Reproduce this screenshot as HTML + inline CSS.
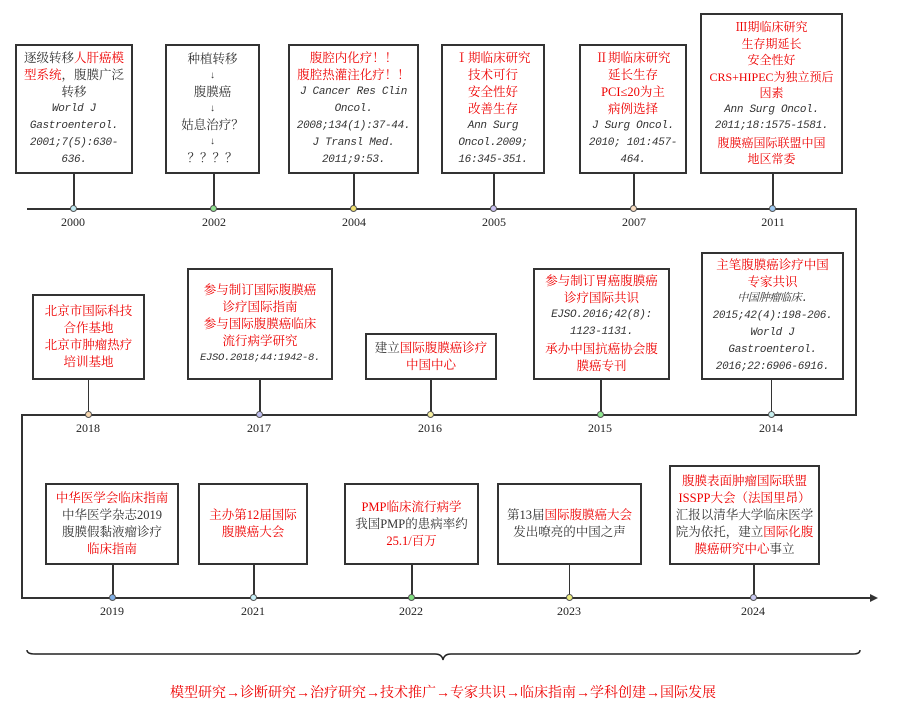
<!DOCTYPE html>
<html><head><meta charset="utf-8"><style>
body{margin:0;width:898px;height:711px;background:#fff;position:relative;overflow:hidden;font-family:"Liberation Serif","Noto Serif CJK SC",serif;}
.b{position:absolute;border:2px solid #333;box-sizing:border-box;background:#fff;text-align:center;font-size:12.5px;line-height:17px;color:#333;display:flex;flex-direction:column;justify-content:center;}
.r{color:#e00;}
.i{font-style:italic;font-family:"Liberation Mono","Noto Serif CJK SC",monospace;font-size:11px;letter-spacing:-0.3px;}
.l{position:absolute;background:#333;}
.d{position:absolute;width:7px;height:7px;border-radius:50%;border:1px solid #555;box-sizing:border-box;}
.y{position:absolute;font-size:12px;width:50px;text-align:center;color:#222;}
</style></head><body>
<div class="l" style="left:27px;top:208px;width:830px;height:1.5px"></div>
<div class="l" style="left:855px;top:208px;width:1.5px;height:207px"></div>
<div class="l" style="left:21px;top:414px;width:836px;height:1.5px"></div>
<div class="l" style="left:21px;top:414px;width:1.5px;height:185px"></div>
<div class="l" style="left:21px;top:597px;width:852px;height:1.5px"></div>
<svg style="position:absolute;left:870px;top:593px" width="10" height="10"><polygon points="0,1 8,5 0,9" fill="#333"/></svg>
<div class="l" style="left:73px;top:174px;width:1.5px;height:34px"></div>
<div class="l" style="left:213px;top:174px;width:1.5px;height:34px"></div>
<div class="l" style="left:353px;top:174px;width:1.5px;height:34px"></div>
<div class="l" style="left:493px;top:174px;width:1.5px;height:34px"></div>
<div class="l" style="left:633px;top:174px;width:1.5px;height:34px"></div>
<div class="l" style="left:772px;top:174px;width:1.5px;height:34px"></div>
<div class="l" style="left:88px;top:380px;width:1px;height:34px"></div>
<div class="l" style="left:259px;top:380px;width:1.5px;height:34px"></div>
<div class="l" style="left:430px;top:380px;width:1.5px;height:34px"></div>
<div class="l" style="left:600px;top:380px;width:1.5px;height:34px"></div>
<div class="l" style="left:771px;top:380px;width:1px;height:34px"></div>
<div class="l" style="left:112px;top:565px;width:1.5px;height:33px"></div>
<div class="l" style="left:253px;top:565px;width:1.5px;height:33px"></div>
<div class="l" style="left:411px;top:565px;width:1.5px;height:33px"></div>
<div class="l" style="left:569px;top:565px;width:1px;height:33px"></div>
<div class="l" style="left:753px;top:565px;width:1.5px;height:33px"></div>
<div class="d" style="left:70px;top:205px;background:#bfe8f0"></div>
<div class="d" style="left:210px;top:205px;background:#8fe08f"></div>
<div class="d" style="left:350px;top:205px;background:#f0e070"></div>
<div class="d" style="left:490px;top:205px;background:#c8c0f0"></div>
<div class="d" style="left:630px;top:205px;background:#f8dcc0"></div>
<div class="d" style="left:769px;top:205px;background:#9cc8f0"></div>
<div class="d" style="left:85px;top:411px;background:#f8d8b0"></div>
<div class="d" style="left:256px;top:411px;background:#c0c0f0"></div>
<div class="d" style="left:427px;top:411px;background:#f8f0a0"></div>
<div class="d" style="left:597px;top:411px;background:#90e890"></div>
<div class="d" style="left:768px;top:411px;background:#c8f0f0"></div>
<div class="d" style="left:109px;top:594px;background:#80b0e8"></div>
<div class="d" style="left:250px;top:594px;background:#c8f0f8"></div>
<div class="d" style="left:408px;top:594px;background:#80e080"></div>
<div class="d" style="left:566px;top:594px;background:#f0f080"></div>
<div class="d" style="left:750px;top:594px;background:#c8c8f0"></div>
<div class="y" style="left:48px;top:215px">2000</div>
<div class="y" style="left:189px;top:215px">2002</div>
<div class="y" style="left:329px;top:215px">2004</div>
<div class="y" style="left:469px;top:215px">2005</div>
<div class="y" style="left:609px;top:215px">2007</div>
<div class="y" style="left:748px;top:215px">2011</div>
<div class="y" style="left:63px;top:421px">2018</div>
<div class="y" style="left:234px;top:421px">2017</div>
<div class="y" style="left:405px;top:421px">2016</div>
<div class="y" style="left:575px;top:421px">2015</div>
<div class="y" style="left:746px;top:421px">2014</div>
<div class="y" style="left:87px;top:604px">2019</div>
<div class="y" style="left:228px;top:604px">2021</div>
<div class="y" style="left:386px;top:604px">2022</div>
<div class="y" style="left:544px;top:604px">2023</div>
<div class="y" style="left:728px;top:604px">2024</div>
<div class="b" style="left:15px;top:44px;width:118px;height:130px"><div>逐级转移<span class="r">人肝癌模<br>型系统</span>，腹膜广泛<br>转移</div><div class="i">World J<br>Gastroenterol.<br>2001;7(5):630-<br>636.</div></div>
<div class="b" style="left:165px;top:44px;width:95px;height:130px"><div>种植转移</div><div style="font-size:10px;line-height:16px">↓</div><div>腹膜癌</div><div style="font-size:10px;line-height:16px">↓</div><div>姑息治疗？</div><div style="font-size:10px;line-height:16px">↓</div><div>？？？？</div></div>
<div class="b" style="left:288px;top:44px;width:131px;height:130px"><div class="r">腹腔内化疗！！<br>腹腔热灌注化疗！！</div><div class="i">J Cancer Res Clin<br>Oncol.<br>2008;134(1):37-44.<br>J Transl Med.<br>2011;9:53.</div></div>
<div class="b" style="left:441px;top:44px;width:104px;height:130px"><div class="r">Ⅰ期临床研究<br>技术可行<br>安全性好<br>改善生存</div><div class="i">Ann Surg<br>Oncol.2009;<br>16:345-351.</div></div>
<div class="b" style="left:579px;top:44px;width:108px;height:130px"><div class="r">Ⅱ期临床研究<br>延长生存<br>PCI≤20为主<br>病例选择</div><div class="i">J Surg Oncol.<br>2010; 101:457-<br>464.</div></div>
<div class="b" style="left:700px;top:13px;width:143px;height:161px;line-height:16.5px;font-size:12px"><div class="r">Ⅲ期临床研究<br>生存期延长<br>安全性好<br>CRS+HIPEC为独立预后<br>因素</div><div class="i">Ann Surg Oncol.<br>2011;18:1575-1581.</div><div class="r">腹膜癌国际联盟中国<br>地区常委</div></div>
<div class="b r" style="left:32px;top:294px;width:113px;height:86px"><div>北京市国际科技<br>合作基地<br>北京市肿瘤热疗<br>培训基地</div></div>
<div class="b" style="left:187px;top:268px;width:146px;height:112px"><div class="r">参与制订国际腹膜癌<br>诊疗国际指南<br>参与国际腹膜癌临床<br>流行病学研究</div><div class="i" style="font-size:10.5px">EJSO.2018;44:1942-8.</div></div>
<div class="b" style="left:365px;top:333px;width:132px;height:47px"><div>建立<span class="r">国际腹膜癌诊疗<br>中国中心</span></div></div>
<div class="b" style="left:533px;top:268px;width:137px;height:112px"><div class="r">参与制订胃癌腹膜癌<br>诊疗国际共识</div><div class="i">EJSO.2016;42(8):<br>1123-1131.</div><div class="r">承办中国抗癌协会腹<br>膜癌专刊</div></div>
<div class="b" style="left:701px;top:252px;width:143px;height:128px"><div class="r">主笔腹膜癌诊疗中国<br>专家共识</div><div class="i">中国肿瘤临床.<br>2015;42(4):198-206.<br>World J<br>Gastroenterol.<br>2016;22:6906-6916.</div></div>
<div class="b" style="left:45px;top:483px;width:134px;height:82px"><div><span class="r">中华医学会临床指南</span><br>中华医学杂志2019<br>腹膜假黏液瘤诊疗<br><span class="r">临床指南</span></div></div>
<div class="b r" style="left:198px;top:483px;width:110px;height:82px"><div>主办第12届国际<br>腹膜癌大会</div></div>
<div class="b" style="left:344px;top:483px;width:135px;height:82px"><div><span class="r">PMP临床流行病学</span><br>我国PMP的患病率约<br><span class="r">25.1/百万</span></div></div>
<div class="b" style="left:497px;top:483px;width:145px;height:82px"><div>第13届<span class="r">国际腹膜癌大会</span><br>发出嘹亮的中国之声</div></div>
<div class="b" style="left:669px;top:465px;width:151px;height:100px"><div><span class="r">腹膜表面肿瘤国际联盟<br>ISSPP大会（法国里昂）</span><br>汇报以清华大学临床医学<br>院为依托，建立<span class="r">国际化腹<br>膜癌研究中心</span>事立</div></div>
<svg style="position:absolute;left:25px;top:648px" width="840" height="16"><path d="M2,2 Q2,6 10,6 L410,6 Q417,6 418,12 Q419,6 426,6 L828,6 Q835,6 835,2" fill="none" stroke="#222" stroke-width="1.5"/></svg>
<div style="position:absolute;left:0;width:886px;top:682px;text-align:center;font-size:14px;color:#e00">模型研究→诊断研究→治疗研究→技术推广→专家共识→临床指南→学科创建→国际发展</div>
</body></html>
